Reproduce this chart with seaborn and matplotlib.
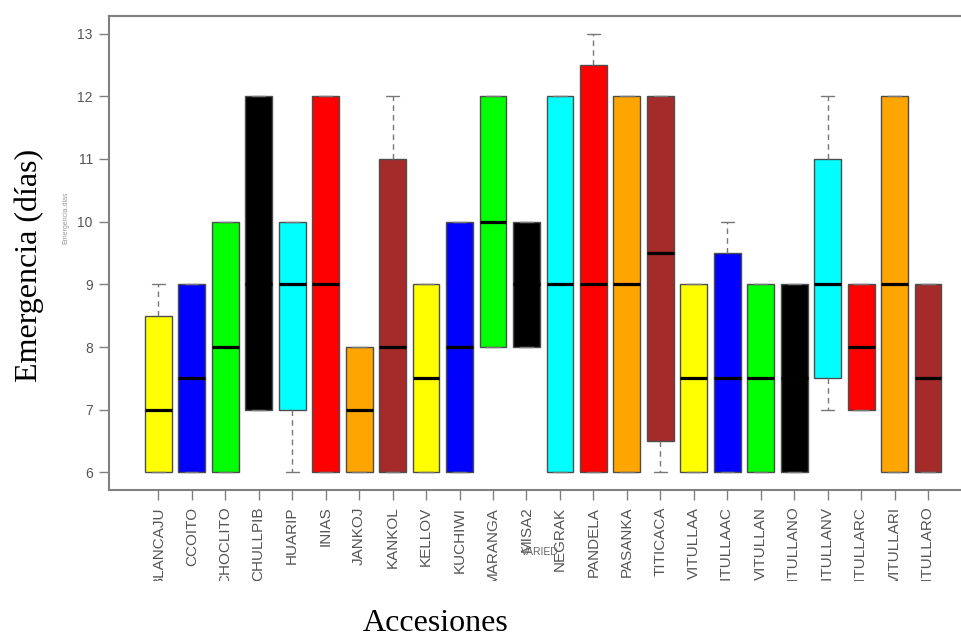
import matplotlib
matplotlib.use("Agg")
import matplotlib.pyplot as plt
import pandas as pd
import seaborn as sns
from matplotlib.patches import Rectangle

# Five-number summary of days to emergence per accession
accessions = ["BLANCAJU", "CCOITO", "CHOCLITO", "CHULLPIB", "HUARIP", "INIAS",
              "JANKOJ", "KANKOL", "KELLOV", "KUCHIWI", "MARANGA", "MISA2",
              "NEGRAK", "PANDELA", "PASANKA", "TITICACA", "VITULLAA", "VITULLAAC",
              "VITULLAN", "VITULLANO", "VITULLANV", "VITULLARC", "VITULLARI", "VITULLARO"]
whisker_low = [6, 6, 6, 7, 6, 6, 6, 6, 6, 6, 8, 8,
               6, 6, 6, 6, 6, 6, 6, 6, 7, 7, 6, 6]
q1 = [6, 6, 6, 7, 7, 6, 6, 6, 6, 6, 8, 8,
      6, 6, 6, 6.5, 6, 6, 6, 6, 7.5, 7, 6, 6]
median = [7, 7.5, 8, 9, 9, 9, 7, 8, 7.5, 8, 10, 9,
          9, 9, 9, 9.5, 7.5, 7.5, 7.5, 7.5, 9, 8, 9, 7.5]
q3 = [8.5, 9, 10, 12, 10, 12, 8, 11, 9, 10, 12, 10,
      12, 12.5, 12, 12, 9, 9.5, 9, 9, 11, 9, 12, 9]
whisker_high = [9, 9, 10, 12, 10, 12, 8, 12, 9, 10, 12, 10,
                12, 13, 12, 12, 9, 10, 9, 9, 12, 9, 12, 9]
box_colors = ["yellow", "blue", "#00FF00", "black", "cyan", "red", "orange", "#A52A2A"]
y_ticks = [6, 7, 8, 9, 10, 11, 12, 13]

rows = []
for i, name in enumerate(accessions):
    for v in (whisker_low[i], q1[i], median[i], q3[i], whisker_high[i]):
        rows.append((name, v))
df = pd.DataFrame(rows, columns=["Accesion", "Emergencia"])
palette = [box_colors[i % len(box_colors)] for i in range(len(accessions))]

sns.set_style("white")
plt.rcParams["font.family"] = ["Liberation Sans", "DejaVu Sans"]

fig = plt.figure(figsize=(9.61, 6.39), dpi=100)
ax = fig.add_axes([0.1139, 0.2332, 0.9027, 0.7418])

sns.boxplot(data=df, x="Accesion", y="Emergencia", hue="Accesion", order=accessions,
            hue_order=accessions, palette=palette, legend=False, width=0.8,
            saturation=1, whis=(0, 100), showfliers=False, linewidth=1,
            linecolor="#4d4d4d", ax=ax,
            medianprops=dict(color="black", linewidth=2.3),
            whiskerprops=dict(color="#777777", linestyle=(0, (4, 3)), linewidth=1),
            capprops=dict(color="#777777", linewidth=1))

ax.set_xlim(-1.46, len(accessions) - 1 + 1.46)
ax.set_ylim(5.72, 13.28)
ax.set_yticks(y_ticks)
ax.set_yticklabels([str(t) for t in y_ticks], fontsize=10)
ax.set_xticks(range(len(accessions)))
ax.set_xticklabels(accessions, rotation=90, fontsize=11)
ax.set_xlabel("")
ax.set_ylabel("")
ax.tick_params(axis="both", direction="out", length=7, width=1, color="#808080",
               labelcolor="#555555", bottom=True, left=True)
ax.tick_params(axis="x", pad=5)
ax.tick_params(axis="y", pad=5)
for side in ("top", "bottom", "left", "right"):
    ax.spines[side].set_visible(True)
    ax.spines[side].set_color("#808080")
    ax.spines[side].set_linewidth(1.5)

# cropped strip beneath the rotated accession names
fig.add_artist(Rectangle((0, 32 / 639), 1, 26 / 639, transform=fig.transFigure,
                         facecolor="white", edgecolor="none", zorder=5))

fig.text(540 / 961, (639 - 552) / 639, "VARIED", fontsize=7.5, color="#666666",
         ha="center", va="center")
fig.text(66 / 961, (639 - 218) / 639, "Emergencia.dias", fontsize=5, color="#999999",
         rotation=90, ha="center", va="center")

fig.text(29 / 961, (639 - 265) / 639, "Emergencia (días)", fontsize=23,
         family=["Liberation Serif", "DejaVu Serif"], rotation=90,
         ha="center", va="center", color="black")
fig.text(436 / 961, 8 / 639, "Accesiones", fontsize=23,
         family=["Liberation Serif", "DejaVu Serif"], ha="center", va="baseline",
         color="black")

fig.savefig("out.png", dpi=100)
